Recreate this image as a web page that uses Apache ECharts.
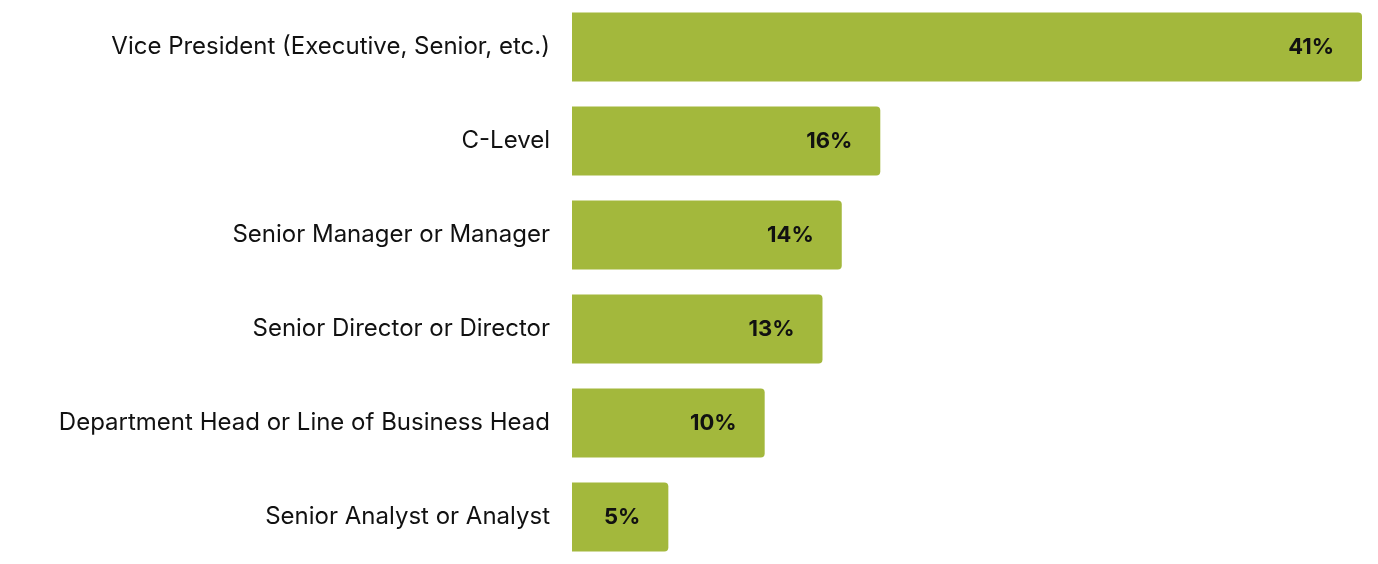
<!DOCTYPE html>
<html><head><meta charset="utf-8">
<script src="https://cdn.jsdelivr.net/npm/echarts@6/dist/echarts.min.js"></script>
<style>html,body{margin:0;padding:0;background:#fff}#c{width:1378px;height:564px}</style>
</head><body><div id="c"></div>
<script>
const categories = ["Vice President (Executive, Senior, etc.)","C-Level","Senior Manager or Manager","Senior Director or Director","Department Head or Line of Business Head","Senior Analyst or Analyst"];
const values = [41,16,14,13,10,5];
const chart = echarts.init(document.getElementById('c'));
chart.setOption({
  animation:false,
  grid:{left:572,right:16,top:-6,bottom:-3},
  xAxis:{type:'value',min:0,max:41,show:false},
  yAxis:{type:'category',data:categories,inverse:true,
    axisLine:{show:false},axisTick:{show:false},
    axisLabel:{margin:22,fontSize:24,color:'#111',fontFamily:'Inter'}},
  series:[{type:'bar',data:values,barWidth:69,
    itemStyle:{color:'#A3B83C',borderRadius:[0,4,4,0]},
    label:{show:true,position:'insideRight',distance:28,formatter:'{c}%',
      fontSize:22,fontWeight:'bold',color:'#111',fontFamily:'Inter'}}]
});
</script></body></html>
